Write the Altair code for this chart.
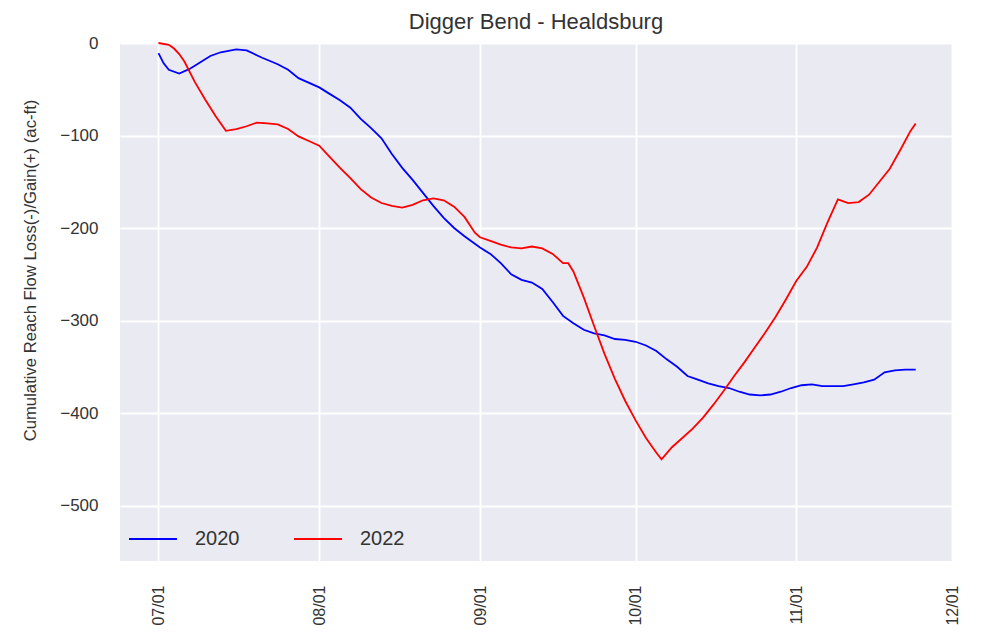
import altair as alt
import pandas as pd

# ---- data ----
dates_2020 = ["07-01","07-02","07-03","07-05","07-07","07-09","07-11","07-13","07-16","07-18",
              "07-21","07-24","07-26","07-28","08-01","08-03","08-05","08-07","08-09","08-11",
              "08-13","08-15","08-17","08-19","08-21","08-23","08-25","08-27","08-29","09-01",
              "09-03","09-05","09-07","09-09","09-11","09-13","09-15","09-17","09-19","09-21",
              "09-23","09-25","09-27","09-29","10-01","10-03","10-05","10-07","10-09","10-11",
              "10-13","10-15","10-17","10-19","10-21","10-23","10-25","10-27","10-29","10-31",
              "11-02","11-04","11-06","11-08","11-10","11-12","11-14","11-16","11-18","11-20",
              "11-22","11-24"]
vals_2020 = [-11,-22,-29,-33,-28,-21,-14,-10,-7,-8,
             -16,-23,-29,-38,-48,-55,-62,-70,-82,-92,
             -103,-120,-135,-148,-162,-176,-189,-200,-209,-221,
             -228,-238,-250,-256,-259,-266,-280,-295,-303,-310,
             -314,-316,-320,-321,-323,-327,-333,-342,-350,-360,
             -364,-368,-371,-373,-377,-380,-381,-380,-377,-373,
             -370,-369,-371,-371,-371,-369,-367,-364,-356,-354,
             -353,-353]

dates_2022 = ["07-01","07-03","07-04","07-05","07-06","07-08","07-10","07-12","07-14","07-16",
              "07-18","07-20","07-22","07-24","07-26","07-28","07-30","08-01","08-03","08-05",
              "08-07","08-09","08-11","08-13","08-15","08-17","08-19","08-21","08-23","08-25",
              "08-27","08-29","08-31","09-01","09-03","09-05","09-07","09-09","09-11","09-13",
              "09-15","09-17","09-18","09-19","09-21","09-23","09-25","09-27","09-29","10-01",
              "10-03","10-05","10-06","10-08","10-10","10-12","10-14","10-16","10-18","10-20",
              "10-22","10-24","10-26","10-28","10-30","11-01","11-03","11-05","11-07","11-09",
              "11-11","11-13","11-15","11-17","11-19","11-21","11-23","11-24"]
vals_2022 = [0,-2,-6,-12,-20,-42,-61,-79,-95,-93,
             -90,-86,-87,-88,-93,-101,-106,-111,-123,-135,
             -146,-158,-167,-173,-176,-178,-175,-170,-168,-170,
             -177,-188,-205,-210,-214,-218,-221,-222,-220,-222,
             -228,-238,-238,-247,-275,-306,-336,-363,-387,-408,
             -427,-443,-450,-437,-427,-417,-405,-391,-376,-360,
             -345,-329,-313,-296,-277,-257,-242,-221,-194,-169,
             -173,-172,-164,-150,-136,-116,-95,-87]

series_names = ["2020", "2022"]
series_colors = ["#0000ff", "#ff0000"]
tick_months = [(7, 1), (8, 1), (9, 1), (10, 1), (11, 1), (12, 1)]
y_ticks = [0, -100, -200, -300, -400, -500]

rows = []
for d, v in zip(dates_2020, vals_2020):
    rows.append({"date": "2000-" + d, "value": v, "year": "2020"})
for d, v in zip(dates_2022, vals_2022):
    rows.append({"date": "2000-" + d, "value": v, "year": "2022"})
df = pd.DataFrame(rows)

FONT = "Liberation Sans"
TXT = "#333333"

x_ticks = [alt.DateTime(year=2000, month=m, date=dd, utc=True) for m, dd in tick_months]

chart = alt.Chart(df).mark_line(strokeWidth=1.8).encode(
    x=alt.X("date:T",
            scale=alt.Scale(type="utc",
                            domain=[alt.DateTime(year=2000, month=6, date=23, hours=14, utc=True),
                                    alt.DateTime(year=2000, month=12, date=1, utc=True)]),
            axis=alt.Axis(values=x_ticks, format="%m/%d", labelAngle=270, title=None,
                          labelPadding=24, labelFontSize=16)),
    y=alt.Y("value:Q",
            scale=alt.Scale(domain=[-560, 0], nice=False, zero=False),
            axis=alt.Axis(values=y_ticks, title="Cumulative Reach Flow Loss(-)/Gain(+) (ac-ft)",
                          labelPadding=22, labelFontSize=17, titleFontSize=16.7,
                          titleFontWeight="normal", titleX=-90, titleY=227,
                          titleAngle=270, titleAlign="center", titleBaseline="middle")),
    color=alt.Color("year:N",
                    scale=alt.Scale(domain=series_names, range=series_colors),
                    legend=alt.Legend(title=None, orient="none", legendX=8, legendY=471,
                                      direction="horizontal", symbolType="stroke",
                                      symbolSize=2300, symbolStrokeWidth=1.8,
                                      labelFontSize=20, labelOffset=17, columnPadding=50,
                                      labelColor=TXT, labelFont=FONT)),
).properties(
    width=832, height=518,
    title=alt.TitleParams("Digger Bend - Healdsburg", fontSize=22, font=FONT,
                          fontWeight="normal", color=TXT, offset=0, anchor="middle"),
    padding={"left": 112, "top": 35, "right": 20, "bottom": 75},
    autosize=alt.AutoSizeParams(type="none"),
    background="white",
).configure_view(
    fill="#EAEAF2", stroke=None
).configure_axis(
    grid=True, gridColor="white", gridWidth=1.8, domain=False, ticks=False,
    labelFont=FONT, titleFont=FONT, labelColor=TXT, titleColor=TXT
)

chart.save("out.html", embed_options={"renderer": "svg", "actions": False})
